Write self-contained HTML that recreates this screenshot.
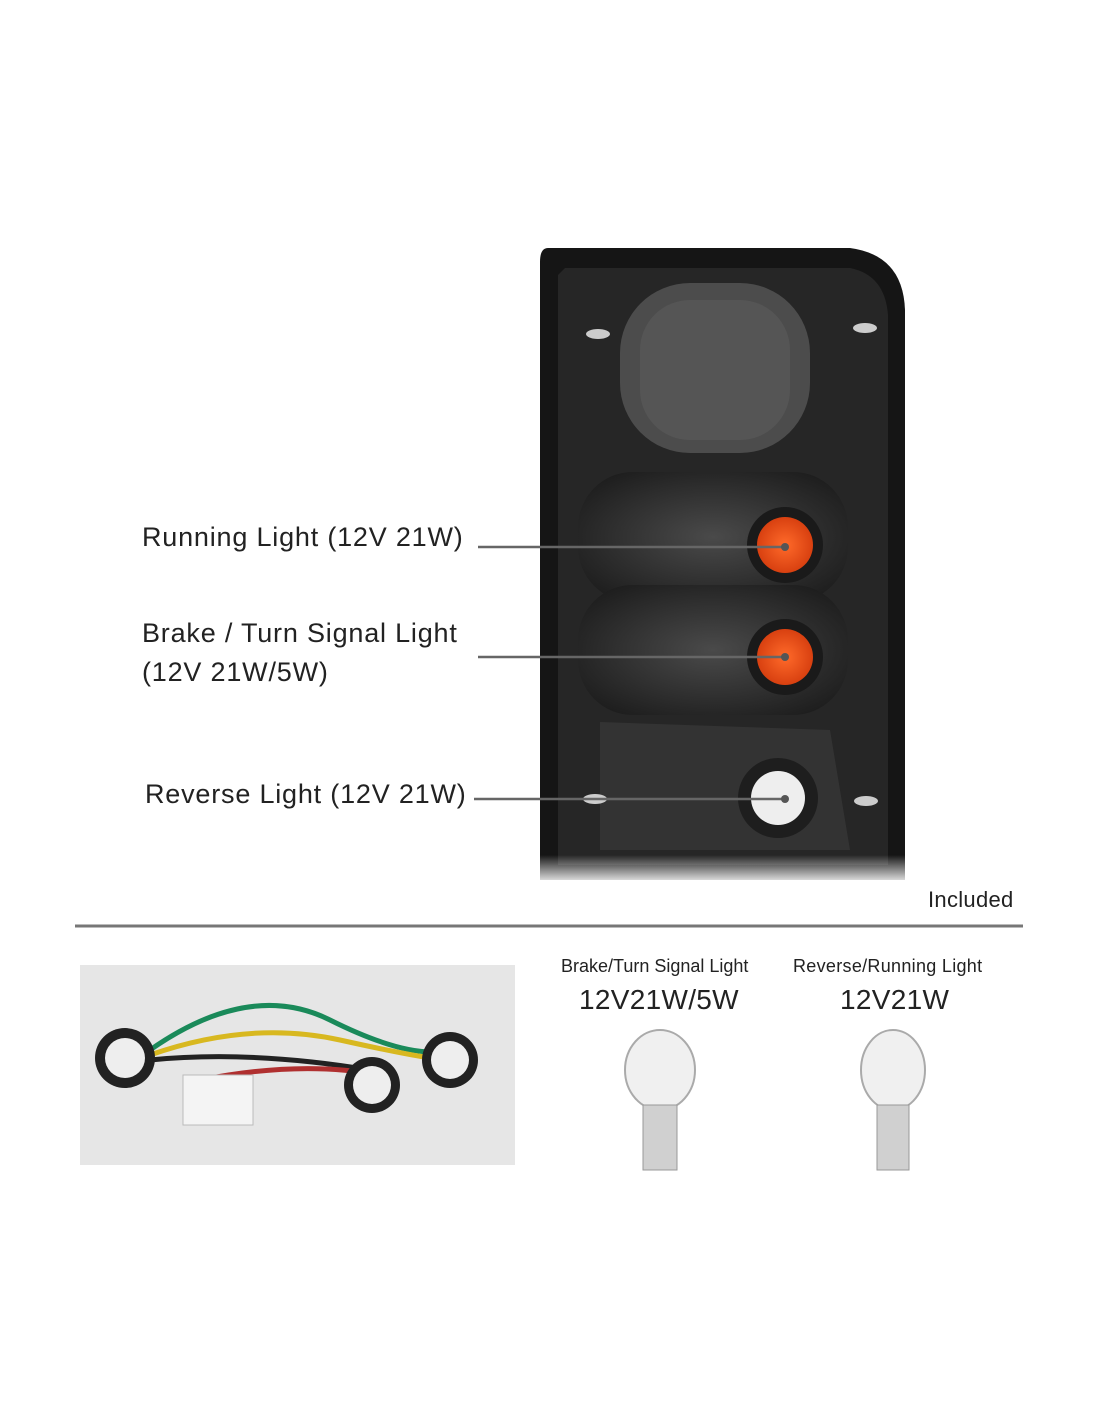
<!DOCTYPE html>
<html><head><style>
body{margin:0;background:#fff;width:1100px;height:1422px;overflow:hidden;position:relative;font-family:"Liberation Sans",sans-serif;color:#222}
.t{position:absolute;font-size:27px;white-space:nowrap;letter-spacing:0.8px}
</style></head><body>
<svg width="1100" height="1422" style="position:absolute;left:0;top:0">
<defs>
<radialGradient id="bg" cx="0.5" cy="0.5" r="0.6"><stop offset="0" stop-color="#4a4a4a"/><stop offset="1" stop-color="#1e1e1e"/></radialGradient>
<radialGradient id="or" cx="0.5" cy="0.5" r="0.5"><stop offset="0" stop-color="#ff6a2a"/><stop offset="1" stop-color="#d84010"/></radialGradient>
<linearGradient id="fade" x1="0" y1="0" x2="0" y2="1"><stop offset="0" stop-color="#fff" stop-opacity="0"/><stop offset="1" stop-color="#fff" stop-opacity="1"/></linearGradient>
</defs>
<path d="M548 248 L850 248 Q903 255 905 310 L905 880 L540 880 L540 262 Q540 248 548 248Z" fill="#151515"/>
<path d="M565 268 L850 268 Q885 275 888 315 L888 865 L558 865 L558 275Z" fill="#262626"/>
<rect x="620" y="283" width="190" height="170" rx="70" fill="#4c4c4c"/>
<rect x="640" y="300" width="150" height="140" rx="50" fill="#555"/>
<rect x="578" y="472" width="270" height="130" rx="55" fill="url(#bg)"/>
<rect x="578" y="585" width="270" height="130" rx="55" fill="url(#bg)"/>
<path d="M600 722 L830 730 L850 850 L600 850Z" fill="#333"/>
<circle cx="785" cy="545" r="38" fill="#1a1a1a"/><circle cx="785" cy="545" r="28" fill="url(#or)"/>
<circle cx="785" cy="657" r="38" fill="#1a1a1a"/><circle cx="785" cy="657" r="28" fill="url(#or)"/>
<circle cx="778" cy="798" r="40" fill="#1e1e1e"/><circle cx="778" cy="798" r="27" fill="#eee"/>
<ellipse cx="598" cy="334" rx="12" ry="5" fill="#ccc"/><ellipse cx="865" cy="328" rx="12" ry="5" fill="#ccc"/>
<ellipse cx="595" cy="799" rx="12" ry="5" fill="#ccc"/><ellipse cx="866" cy="801" rx="12" ry="5" fill="#ccc"/>
<rect x="535" y="855" width="375" height="30" fill="url(#fade)"/>
<g stroke="#666" stroke-width="2.5">
<line x1="478" y1="547" x2="785" y2="547"/><line x1="478" y1="657" x2="785" y2="657"/><line x1="474" y1="799" x2="785" y2="799"/>
</g>
<circle cx="785" cy="547" r="4" fill="#555"/><circle cx="785" cy="657" r="4" fill="#555"/><circle cx="785" cy="799" r="4" fill="#555"/>
<line x1="75" y1="926" x2="1023" y2="926" stroke="#777" stroke-width="3"/>
<rect x="80" y="965" width="435" height="200" fill="#e6e6e6"/>
<g fill="none" stroke-width="5">
<path d="M150 1050 Q250 980 330 1020 T450 1050" stroke="#1a8a5a"/>
<path d="M150 1055 Q250 1020 340 1040 T450 1060" stroke="#d8b820"/>
<path d="M150 1060 Q250 1050 370 1070" stroke="#222"/>
<path d="M200 1080 Q300 1060 380 1075" stroke="#b03030"/>
</g>
<circle cx="125" cy="1058" r="30" fill="#222"/><circle cx="125" cy="1058" r="20" fill="#eee"/>
<circle cx="372" cy="1085" r="28" fill="#222"/><circle cx="372" cy="1085" r="19" fill="#eee"/>
<circle cx="450" cy="1060" r="28" fill="#222"/><circle cx="450" cy="1060" r="19" fill="#eee"/>
<rect x="183" y="1075" width="70" height="50" fill="#f4f4f4" stroke="#bbb"/>
<ellipse cx="660" cy="1070" rx="35" ry="40" fill="#f0f0f0" stroke="#aaa" stroke-width="2"/>
<rect x="643" y="1105" width="34" height="65" fill="#d0d0d0" stroke="#999"/>
<ellipse cx="893" cy="1070" rx="32" ry="40" fill="#f0f0f0" stroke="#aaa" stroke-width="2"/>
<rect x="877" y="1105" width="32" height="65" fill="#d0d0d0" stroke="#999"/>
</svg>
<div class="t" style="left:142px;top:522px">Running Light (12V 21W)</div>
<div class="t" style="left:142px;top:618px">Brake / Turn Signal Light</div>
<div class="t" style="left:142px;top:657px">(12V 21W/5W)</div>
<div class="t" style="left:145px;top:779px">Reverse Light (12V 21W)</div>
<div class="t" style="left:928px;top:887px;font-size:22px;letter-spacing:0.3px">Included</div>
<div class="t" style="left:561px;top:956px;font-size:18px;letter-spacing:0">Brake/Turn Signal Light</div>
<div class="t" style="left:579px;top:984px;font-size:28px;letter-spacing:0.3px">12V21W/5W</div>
<div class="t" style="left:793px;top:956px;font-size:18px;letter-spacing:0.3px">Reverse/Running Light</div>
<div class="t" style="left:840px;top:984px;font-size:28px;letter-spacing:0.3px">12V21W</div>
</body></html>
